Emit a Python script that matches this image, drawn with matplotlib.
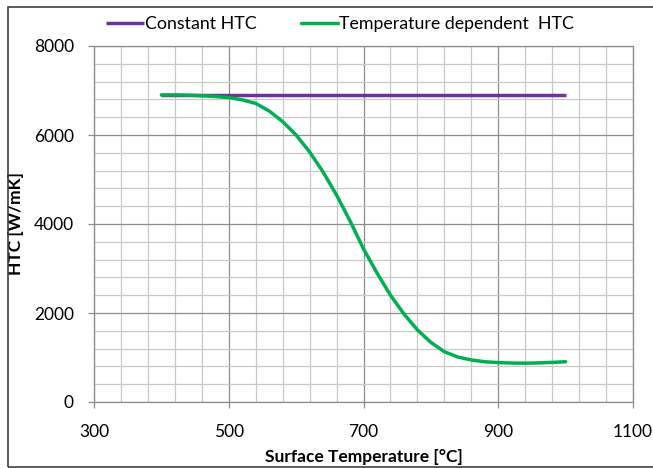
import numpy as np
import matplotlib.pyplot as plt
from matplotlib.ticker import FixedLocator
from matplotlib.patches import Rectangle

plt.rcParams['font.family'] = ['Lato', 'DejaVu Sans']

# donnees
temp_const = [400, 1000]
htc_const = [6900, 6900]

temp_dep = [400, 425, 450, 475, 500, 520, 540, 560, 580, 600, 620, 640, 660, 680,
            700, 720, 740, 760, 780, 800, 820, 840, 860, 880, 900, 920, 940, 960,
            980, 1000]
htc_dep = [6900, 6900, 6890, 6870, 6840, 6790, 6710, 6540, 6300, 6000, 5620, 5170,
           4650, 4070, 3440, 2900, 2400, 1980, 1620, 1340, 1130, 1010, 945, 905,
           885, 875, 872, 878, 890, 905]

label_const = "Constant HTC"
label_dep = "Temperature dependent  HTC"

x_major = [300, 500, 700, 900, 1100]
y_major = [0, 2000, 4000, 6000, 8000]

purple = '#7030A0'
green = '#00B050'
major_col = '#8C8C8C'
minor_col = '#C8C8C8'

fig = plt.figure(figsize=(6.53, 4.68), dpi=100)
ax = fig.add_axes([94/653, 1-402/468, (633-94)/653, (402-46)/468])

ax.plot(temp_const, htc_const, color=purple, lw=2.5, label=label_const, solid_capstyle='butt')
ax.plot(temp_dep, htc_dep, color=green, lw=2.5, label=label_dep, solid_capstyle='round',
        solid_joinstyle='round')

ax.set_xlim(300, 1100)
ax.set_ylim(0, 8000)
ax.xaxis.set_major_locator(FixedLocator(x_major))
ax.xaxis.set_minor_locator(FixedLocator(np.arange(300, 1101, 40)))
ax.yaxis.set_major_locator(FixedLocator(y_major))
ax.yaxis.set_minor_locator(FixedLocator(np.arange(0, 8001, 400)))

ax.grid(which='major', color=major_col, lw=0.9)
ax.grid(which='minor', color=minor_col, lw=0.9)
ax.set_axisbelow(True)
for s in ax.spines.values():
        s.set_color(major_col)
        s.set_linewidth(0.9)

ax.tick_params(which='major', length=4.5, width=0.9, color=major_col,
               labelsize=12.5)
ax.tick_params(axis='x', pad=11)
ax.tick_params(axis='y', pad=10)
ax.tick_params(which='minor', length=0)

ax.set_xlabel("Surface Temperature [°C]", fontsize=12.5, fontweight='bold', labelpad=7)
ax.set_ylabel("HTC [W/mK]", fontsize=12.5, fontweight='bold', labelpad=7)

fig.legend(loc='center', bbox_to_anchor=(340/653, 1-24/468), ncol=2, frameon=False,
           fontsize=12.8, handlelength=2.1, handletextpad=0.05, columnspacing=2.5)

# cadre du graphique facon Excel
fig.patches.append(Rectangle((8/653, 1/468), 1.2, 460/468, transform=fig.transFigure,
                             fill=False, edgecolor='#404040', lw=1.2))

fig.savefig('out.png', dpi=100)
